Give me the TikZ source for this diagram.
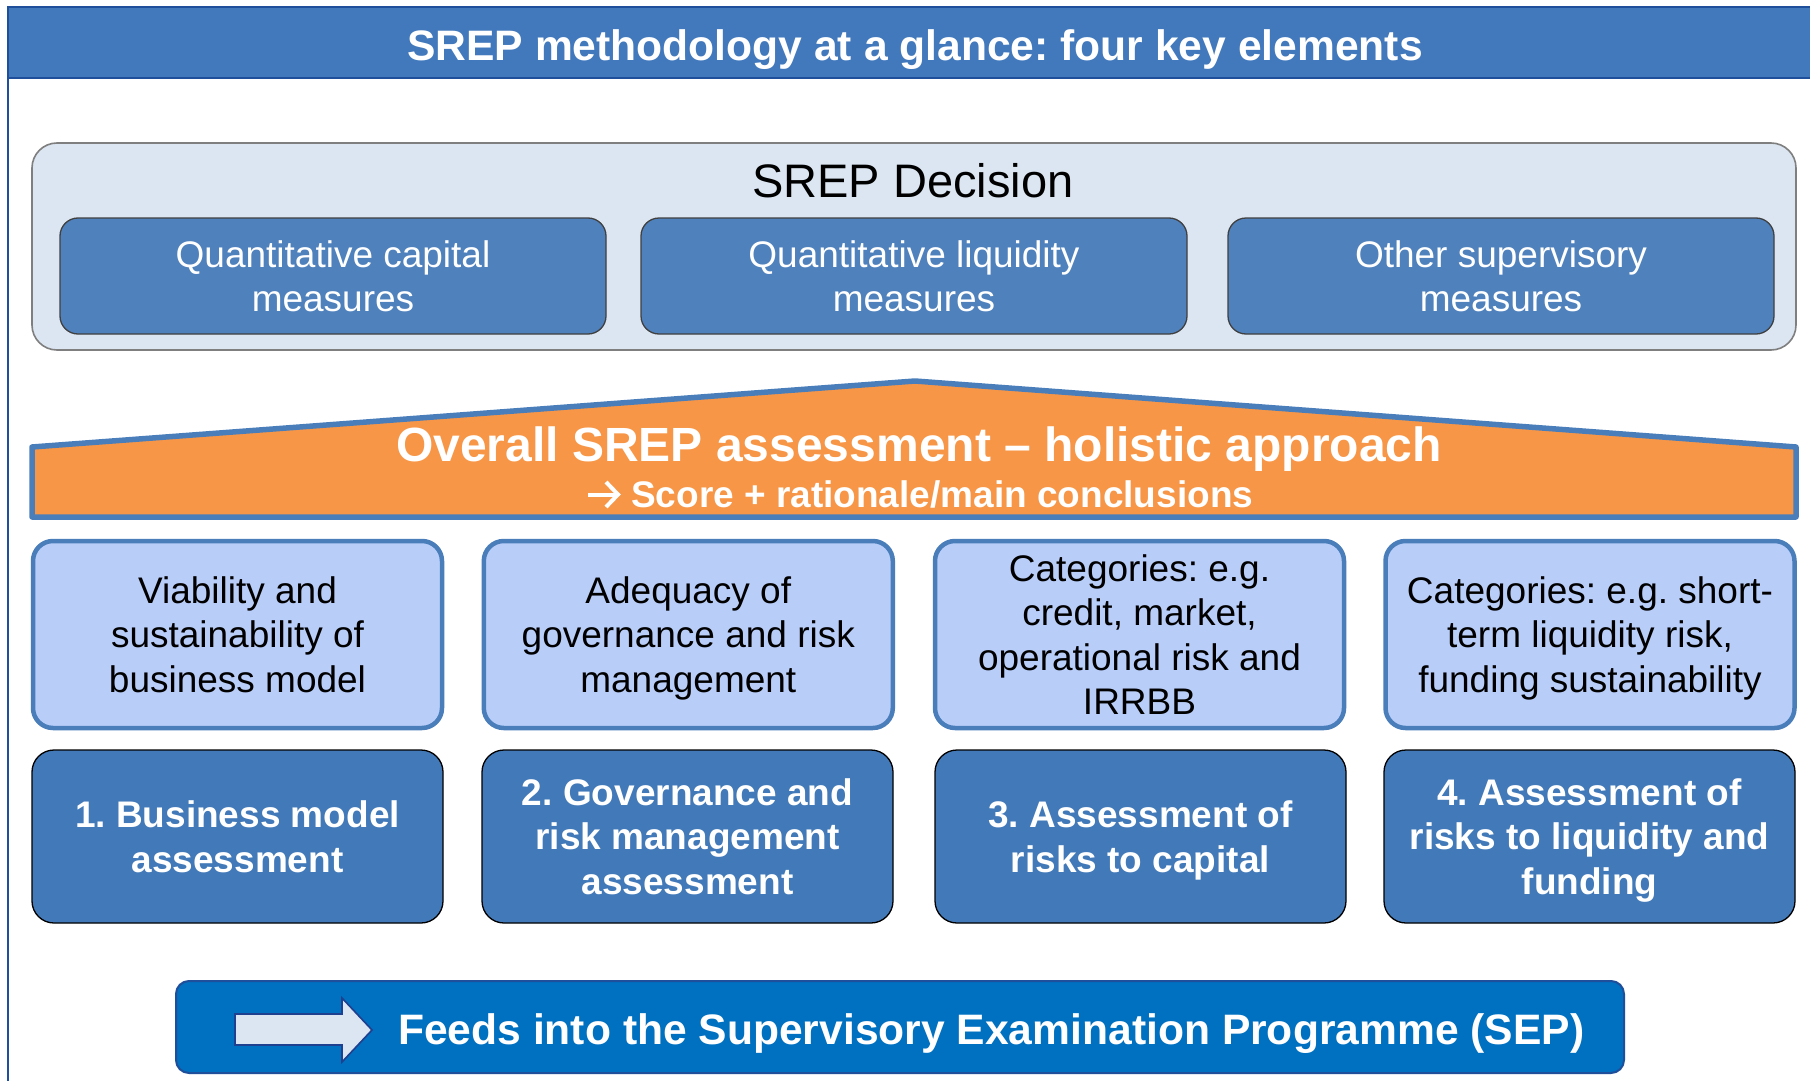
\documentclass[tikz,border=0pt]{standalone}
\usepackage{fontspec}
\setmainfont{Liberation Sans}
\frenchspacing
\definecolor{titleblue}{HTML}{4279BC}
\definecolor{titleedge}{HTML}{1F4E9A}
\definecolor{decfill}{HTML}{DCE6F2}
\definecolor{decedge}{HTML}{7F7F7F}
\definecolor{midblue}{HTML}{4F81BD}
\definecolor{rooffill}{HTML}{F79646}
\definecolor{roofedge}{HTML}{4A7EBB}
\definecolor{lightbox}{HTML}{B9CDF9}
\definecolor{darkbox}{HTML}{4279B8}
\definecolor{sepblue}{HTML}{0070C0}
\definecolor{sepedge}{HTML}{1F4E9A}
\definecolor{arrowedge}{HTML}{1F3F8F}
\tikzset{
  titlebar/.style={draw=titleedge, line width=2pt, fill=titleblue, minimum width=1808pt, minimum height=71pt, inner sep=0pt},
  titletext/.style={text=white, font=\bfseries\fontsize{42.6}{50}\selectfont, inner sep=0pt},
  frameline/.style={draw=titleedge, line width=2pt},
  decision/.style={draw=decedge, line width=1.6pt, fill=decfill, rounded corners=25pt, minimum width=1764pt, minimum height=207pt, inner sep=0pt},
  dectext/.style={text=black, font=\fontsize{47}{54}\selectfont, inner sep=0pt},
  measbox/.style={draw=black!75, line width=1.3pt, fill=midblue, rounded corners=18pt, minimum width=546pt, minimum height=116pt, inner sep=0pt, align=center, text=white, text depth=0pt, font=\fontsize{37}{44}\selectfont},
  roof/.style={draw=roofedge, fill=rooffill, line width=5.5pt, line join=round},
  rooftext/.style={text=white, font=\bfseries\fontsize{48}{55}\selectfont, inner sep=0pt},
  scoretext/.style={text=white, font=\bfseries\fontsize{37}{44}\selectfont, inner sep=0pt},
  scorearrow/.style={draw=white, line width=4pt, line join=miter},
  catbox/.style={draw=roofedge, line width=4.5pt, fill=lightbox, rounded corners=20pt, minimum width=409pt, minimum height=187pt, inner sep=0pt, align=center, text=black, text depth=0pt, font=\fontsize{37}{44.5}\selectfont},
  stepbox/.style={draw=black, line width=1.3pt, fill=darkbox, rounded corners=22pt, minimum width=411pt, minimum height=173pt, inner sep=0pt, align=center, text=white, text depth=0pt, font=\bfseries\fontsize{37}{44.5}\selectfont},
  sepbar/.style={draw=sepedge, line width=2pt, fill=sepblue, rounded corners=13pt, minimum width=1448pt, minimum height=92pt, inner sep=0pt},
  arrowshape/.style={draw=arrowedge, line width=1.6pt, fill=decfill, line join=miter},
  septext/.style={text=white, font=\bfseries\fontsize{42.6}{50}\selectfont, inner sep=0pt}
}
\begin{document}
\begin{tikzpicture}[x=1pt,y=-1pt]
\useasboundingbox[fill=white] (0,0) rectangle (1810,1081);
% title
\node[titlebar] (title) at (912,43) {};
\node[titletext, anchor=base] (titletxt) at (915,60) {SREP methodology at a glance: four key elements};
\coordinate (frametop) at (8,79);
\coordinate (framebot) at (8,1082);
\draw[frameline] (frametop) -- (framebot);
% SREP decision
\node[decision] (dec) at (914,246.5) {};
\node[dectext, anchor=base] (dectxt) at (913,197) {SREP Decision};
\node[measbox] (m1) at (333,276) {Quantitative capital\\measures};
\node[measbox] (m2) at (914,276) {Quantitative liquidity\\measures};
\node[measbox] (m3) at (1501,276) {Other supervisory\\measures};
% roof
\coordinate (rl) at (32,447);
\coordinate (apex) at (915,381);
\coordinate (rr) at (1796,447);
\coordinate (br) at (1796,517);
\coordinate (bl) at (32,517);
\draw[roof] (rl) -- (apex) -- (rr) -- (br) -- (bl) -- cycle;
\node[rooftext, anchor=base] (overall) at (919,461) {Overall SREP assessment – holistic approach};
\node[scoretext, anchor=base west] (score) at (631,507) {Score + rationale/main conclusions};
\coordinate (sa0) at (588,494.5);
\coordinate (sa1) at (618,494.5);
\coordinate (sa2) at (606,482);
\coordinate (sa3) at (606,507);
\draw[scorearrow] (sa0) -- (sa1);
\draw[scorearrow] (sa2) -- (sa1) -- (sa3);
% category boxes
\node[catbox] (c1) at (237.5,634.5) {Viability and\\sustainability of\\business model};
\node[catbox] (c2) at (688.3,634.5) {Adequacy of\\governance and risk\\management};
\node[catbox] (c3) at (1139.5,634.5) {Categories: e.g.\\credit, market,\\operational risk and\\IRRBB};
\node[catbox] (c4) at (1590,634.5) {Categories: e.g. short-\\term liquidity risk,\\funding sustainability};
% element boxes
\node[stepbox] (s1) at (237.5,836.5) {1. Business model\\assessment};
\node[stepbox] (s2) at (687.5,836.5) {2. Governance and\\risk management\\assessment};
\node[stepbox] (s3) at (1140.5,836.5) {3. Assessment of\\risks to capital};
\node[stepbox] (s4) at (1589.5,836.5) {4. Assessment of\\risks to liquidity and\\funding};
% SEP bar
\node[sepbar] (sep) at (900,1027) {};
\coordinate (a1) at (235,1014);
\coordinate (a2) at (342,1014);
\coordinate (a3) at (342,998);
\coordinate (a4) at (372,1030);
\coordinate (a5) at (342,1062);
\coordinate (a6) at (342,1045);
\coordinate (a7) at (235,1045);
\draw[arrowshape] (a1) -- (a2) -- (a3) -- (a4) -- (a5) -- (a6) -- (a7) -- cycle;
\node[septext, anchor=base west] (septxt) at (398,1044) {Feeds into the Supervisory Examination Programme (SEP)};
\end{tikzpicture}
\end{document}
